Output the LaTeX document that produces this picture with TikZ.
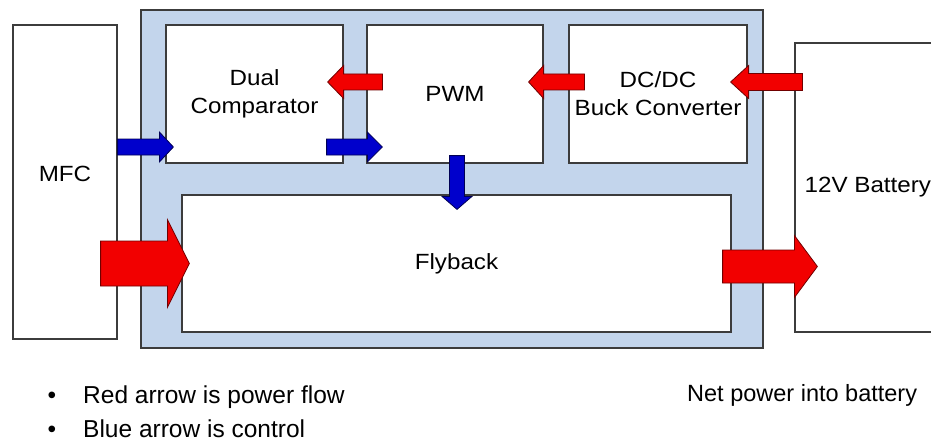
\documentclass[tikz,border=0pt]{standalone}
\usepackage{fontspec}
\setmainfont{Liberation Sans}
\newfontfamily\boxfont{Liberation Sans}[FakeStretch=1.1]
\newfontfamily\notefont{Liberation Sans}
\usepackage{tikz}
\usetikzlibrary{
calc,
positioning
}
\definecolor{boardblue}{HTML}{C3D5EC}
\definecolor{edgegray}{HTML}{3C3C3C}
\definecolor{powerred}{HTML}{F20000}
\definecolor{powerdark}{HTML}{700000}
\definecolor{ctrlblue}{HTML}{0000CC}
\definecolor{ctrldark}{HTML}{000055}

% fat block arrow: style, from, to, shaft half, head half, head length
\newcommand{\blockarrow}[6]{%
  \coordinate (hb) at ($(#3)!#6!(#2)$);
  \filldraw[#1]
    ($(#2)!#4!90:(#3)$) -- ($(hb)!#4!90:(#3)$) --
    ($(hb)!#5!90:(#3)$) -- (#3) --
    ($(hb)!#5!-90:(#3)$) -- ($(hb)!#4!-90:(#3)$) --
    ($(#2)!#4!-90:(#3)$) -- cycle;
}

\begin{document}
\begin{tikzpicture}[
    x=1pt,
    y=-1pt,
    block/.style={
        draw=edgegray,
        line width=1.2pt,
        fill=white,
        align=center,
        inner sep=0pt,
        font=\boxfont\fontsize{22}{28}\selectfont
    },
    power/.style={
        fill=powerred,
        draw=powerdark,
        line width=0.8pt
    },
    control/.style={
        fill=ctrlblue,
        draw=ctrldark,
        line width=0.8pt
    },
    note/.style={
        anchor=base west,
        inner sep=0pt,
        font=\notefont\fontsize{24.5}{29}\selectfont
    }
]

\useasboundingbox (0,0) rectangle (931,441);
\clip (0,0) rectangle (931,441);

% Board
\node[
    draw=edgegray,
    line width=1.2pt,
    fill=boardblue,
    minimum width=622pt,
    minimum height=338pt
] (board) at (452,179) {};

% Blocks on the board
\node[block, minimum width=177pt, minimum height=138pt]
(comp) at (254.5,94) {Dual\\Comparator};

\node[block, minimum width=176pt, minimum height=138pt]
(pwm) at (455,94) {PWM};

\node[block, minimum width=178pt, minimum height=138pt]
(buck) at (658,94) {DC/DC\\Buck Converter};

\node[block, minimum width=549pt, minimum height=137pt]
(fly) at (456.5,263.5) {Flyback};

% Source and load
\node[block, minimum width=104pt, minimum height=314pt]
(mfc) at (65,182) {};
\node[font=\boxfont\fontsize{22}{27}\selectfont]
(mfclbl) at ([yshift=8pt]mfc.center) {MFC};

\node[block, minimum width=165pt, minimum height=289pt]
(batt) at (877.5,187.5) {};
\node[
    anchor=west,
    inner sep=0pt,
    font=\boxfont\fontsize{22}{27}\selectfont
]
(battlbl) at ([xshift=10pt]batt.west) {12V Battery};

% Control arrows
\coordinate (c1s) at (mfc.east |- 0,147);
\coordinate (c1e) at ([xshift=8pt]comp.west |- 0,147);
\coordinate (c2s) at ([xshift=-17pt]comp.east |- 0,147);
\coordinate (c2e) at ([xshift=16pt]pwm.west |- 0,147);
\coordinate (c3s) at ([xshift=2pt,yshift=8pt]pwm.south);
\coordinate (c3e) at ([yshift=-15pt]fly.north -| c3s);

\blockarrow{control}{c1s}{c1e}{8pt}{15pt}{14pt}
\blockarrow{control}{c2s}{c2e}{8pt}{15pt}{15pt}
\blockarrow{control}{c3s}{c3e}{7.5pt}{15pt}{13pt}

% Power arrows
\coordinate (p1s) at ([xshift=16pt]pwm.west |- 0,82);
\coordinate (p1e) at ([xshift=-16pt]comp.east |- 0,82);
\coordinate (p2s) at ([xshift=16pt]buck.west |- 0,82);
\coordinate (p2e) at ([xshift=-15pt]pwm.east |- 0,82);
\coordinate (p3s) at ([xshift=8pt]batt.west |- 0,82);
\coordinate (p3e) at ([xshift=-17pt]buck.east |- 0,82);
\coordinate (p4s) at ([xshift=-17pt]mfc.east |- fly.west);
\coordinate (p4e) at ([xshift=8pt]fly.west);
\coordinate (p5s) at ([xshift=-9pt]fly.east |- 0,266.5);
\coordinate (p5e) at ([xshift=23pt]batt.west |- 0,266.5);

\blockarrow{power}{p1s}{p1e}{8pt}{16.5pt}{16pt}
\blockarrow{power}{p2s}{p2e}{8pt}{16.5pt}{15pt}
\blockarrow{power}{p3s}{p3e}{8.5pt}{16.5pt}{18pt}
\blockarrow{power}{p4s}{p4e}{22.5pt}{44pt}{22pt}
\blockarrow{power}{p5s}{p5e}{16.5pt}{31pt}{23pt}

% Legend
\node[note, anchor=base] (dot1) at (52,403) {\textbullet};
\node[note] (leg1) at (83,403) {Red arrow is power flow};
\node[note, anchor=base] (dot2) at (52,437) {\textbullet};
\node[note] (leg2) at (83,437) {Blue arrow is control};

\node[note, font=\notefont\fontsize{23.5}{28}\selectfont]
(net) at (687,401) {Net power into battery};

\end{tikzpicture}
\end{document}
